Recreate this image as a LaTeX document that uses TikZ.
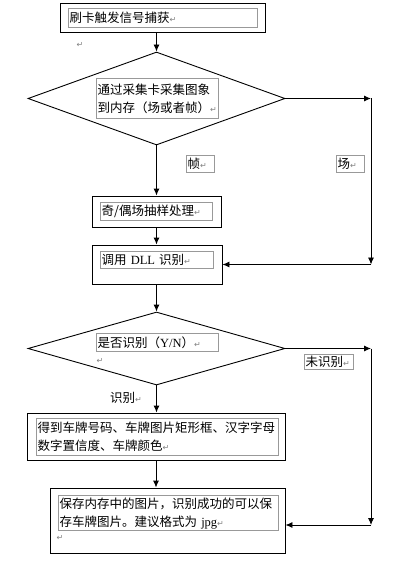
\documentclass[tikz,border=0pt]{standalone}
\usepackage{fontspec}
\setmainfont{Liberation Serif}
\newfontfamily\cjk{Noto Sans CJK SC}
\newfontfamily\retfont{DejaVu Sans}
\usetikzlibrary{shapes.geometric,arrows.meta}
\newcommand{\ret}{{\retfont\color{gray}\fontsize{8}{8}\selectfont ↵}}
\begin{document}
\begin{tikzpicture}[>={Latex[length=7pt,width=6pt]}, x=1pt, y=-1pt, line width=0.9pt,
    stepbox/.style={draw, rectangle, inner sep=0pt},
    decision/.style={draw, diamond, inner sep=0pt},
    textframe/.style={draw=gray!80, line width=1.2pt, rectangle, anchor=north west, inner sep=1pt,
        align=left, font=\cjk\fontsize{12.5}{18}\selectfont},
    plaintext/.style={inner sep=0pt, font=\cjk\fontsize{12.5}{18}\selectfont}]
    \useasboundingbox (0,0) rectangle (406,564);

    % Trigger box
    \node[stepbox, minimum width=205pt, minimum height=29pt] (start) at (162.5,17.5) {};
    \node[textframe, text width=187pt, minimum height=19pt] (starttext) at (68,8) {刷卡触发信号捕获\ret};
    \node (ret1) at (80,45) {\ret};

    % Capture decision
    \node[decision, minimum width=257pt, minimum height=93pt] (capture) at (156.5,98.5) {};
    \node[textframe, text width=120pt, minimum height=40pt] (capturetext) at (96,78)
        {通过采集卡采集图象\\到内存（场或者帧）\ret};

    % Branch labels
    \node[textframe, text width=26pt, minimum height=17pt] (frame) at (186,155) {帧\ret};
    \node[textframe, text width=26pt, minimum height=17pt] (field) at (336,155) {场\ret};

    % Sampling box
    \node[stepbox, minimum width=129pt, minimum height=31pt] (sampling) at (156.5,211.5) {};
    \node[textframe, text width=110pt, minimum height=18pt] (samplingtext) at (100,202) {奇/偶场抽样处理\ret};

    % DLL box
    \node[stepbox, minimum width=130pt, minimum height=39pt] (dll) at (157,264.5) {};
    \node[textframe, text width=111pt, minimum height=17pt] (dlltext) at (100,251) {调用 {\rmfamily DLL} 识别\ret};

    % Recognition decision
    \node[decision, minimum width=257pt, minimum height=73pt] (check) at (156.5,348.5) {};
    \node[textframe, text width=120pt, minimum height=18pt] (checktext) at (96,333) {是否识别（{\rmfamily Y/N}）\ret};
    \node (ret2) at (100,361) {\ret};
    \node[textframe, text width=47pt, minimum height=15pt] (notok) at (304,354) {未识别\ret};
    \node[plaintext] (ok) at (126,398) {识别\ret};

    % Result box
    \node[stepbox, minimum width=258pt, minimum height=47pt] (result) at (156,436.5) {};
    \node[textframe, text width=240pt, minimum height=37pt] (resulttext) at (36,418)
        {得到车牌号码、车牌图片矩形框、汉字字母\\数字置信度、车牌颜色\ret};

    % Save box
    \node[stepbox, minimum width=235pt, minimum height=65pt] (save) at (167.5,520.5) {};
    \node[textframe, text width=218pt, minimum height=35pt] (savetext) at (58,495)
        {保存内存中的图片，识别成功的可以保\\存车牌图片。建议格式为 {\rmfamily jpg}\ret};
    \node (ret3) at (60,538) {\ret};

    % Corner points
    \coordinate (c1) at (371,98.5);
    \coordinate (c2) at (371,264.5);
    \coordinate (c3) at (371,348.5);
    \coordinate (c4) at (371,525);

    % Main flow
    \draw[->] (capture.north |- start.south) -- (capture.north);
    \draw[->] (capture.south) -- (sampling.north);
    \draw[->] (sampling.south) -- (sampling.south |- dll.north);
    \draw[->] (check.north |- dll.south) -- (check.north);
    \draw[->] (check.south) -- (check.south |- result.north);
    \draw[->] (result.south) -- (result.south |- save.north);

    % Field branch
    \draw[->] (capture.east) -- (c1);
    \draw[->] (c1) -- (c2);
    \draw[->] (c2) -- (dll.east);

    % Not recognised branch
    \draw[->] (check.east) -- (c3);
    \draw[->] (c3) -- (c4);
    \draw[->] (c4) -- (save.east |- c4);
\end{tikzpicture}
\end{document}
